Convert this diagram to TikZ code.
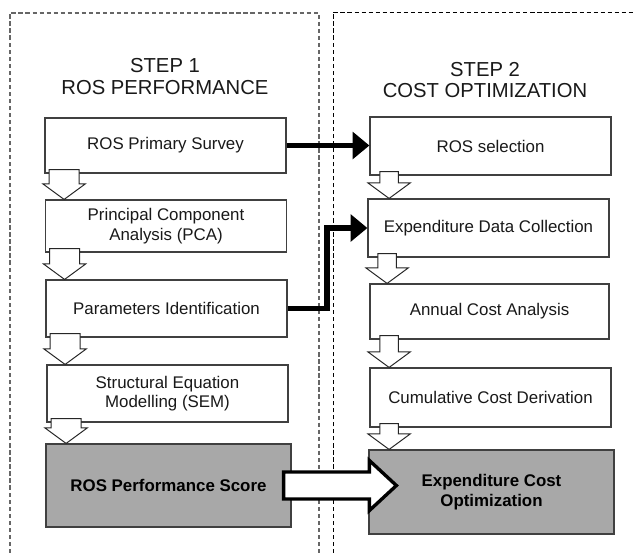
\documentclass[tikz,border=0pt]{standalone}
\usepackage{fontspec}
\setmainfont{Liberation Sans}
\usetikzlibrary{arrows.meta, positioning, calc}

\begin{document}
\begin{tikzpicture}[
    x=0.025cm, y=-0.025cm,
    stepbox/.style={rectangle, draw=black!75, line width=0.8pt, fill=white, text=black!90,
        align=center, font=\fontsize{12}{13.8}\selectfont, minimum width=6.025cm, inner sep=0pt},
    result/.style={stepbox, fill=black!34, text=black, font=\fontsize{12}{13.8}\selectfont\bfseries},
    title/.style={align=center, text=black!90, font=\fontsize{14.4}{15.6}\selectfont},
    frame/.style={dash pattern=on 3pt off 2pt, line width=0.9pt, draw=black!60},
    flow/.style={line width=3.8pt, -{Triangle[length=12pt, width=19pt]}},
    hollow/.style={draw=black!85, line width=0.7pt, fill=white},
    bigarrow/.style={draw=black, line width=2.4pt, fill=white}
]
    \useasboundingbox (0,0) rectangle (635,555);

    % frames
    \draw[frame] (10,560) -- (10,13) -- (319,13) -- (319,560);
    \draw[frame, draw=black, line width=0.6pt] (333,560) -- (333,12) -- (640,12);

    % step 1
    \node[title] (step1) at (165,76.5) {STEP 1\\ROS PERFORMANCE};
    \node[stepbox, minimum height=1.375cm] (survey) at (165.5,145.5) {ROS Primary Survey};
    \node[stepbox, minimum height=1.3cm] (pca) at (166,226) {Principal Component\\Analysis (PCA)};
    \node[stepbox, minimum height=1.425cm] (param) at (166.5,308.5) {Parameters Identification};
    \node[stepbox, minimum height=1.425cm] (sem) at (167.5,393.5) {Structural Equation\\Modelling (SEM)};
    \node[result, minimum width=6.125cm, minimum height=2.075cm] (score) at (168.5,485.5) {ROS Performance Score};

    % step 2
    \node[title] (step2) at (485,80) {STEP 2\\COST OPTIMIZATION};
    \node[stepbox, minimum height=1.45cm] (select) at (490.5,146) {ROS selection};
    \node[stepbox, minimum height=1.45cm] (collect) at (488.5,228) {Expenditure Data Collection};
    \node[stepbox, minimum width=5.975cm, minimum height=1.375cm] (annual) at (489.5,311.5) {Annual Cost Analysis};
    \node[stepbox, minimum height=1.475cm] (cumul) at (490.5,397.5) {Cumulative Cost Derivation};
    \node[result, minimum width=6.125cm, minimum height=2.1cm] (optim) at (491.5,492) {Expenditure Cost\\Optimization};

    % down arrows
    \foreach \a/\b/\w in {survey/pca/10.7pt, pca/param/10.7pt, param/sem/10.7pt, sem/score/10.7pt,
        select/collect/6.6pt, collect/annual/6.6pt, annual/cumul/6.6pt, cumul/optim/6.6pt}
        \draw[hollow] let \p1=(\a.south west), \p2=(\b.north) in
            (\x1+14pt-\w,\y1+2.8pt) -- (\x1+14pt+\w,\y1+2.8pt) -- (\x1+14pt+\w,\y2+11pt)
            -- (\x1+29pt,\y2+11pt) -- (\x1+14pt,\y2) -- (\x1-1pt,\y2+11pt)
            -- (\x1+14pt-\w,\y2+11pt) -- cycle;

    % links between steps
    \coordinate (elbow) at (327,0);
    \draw[flow] (survey.east) -- (survey.east -| select.west);
    \draw[flow] (param.east) -| (elbow |- collect.west) -- (collect.west);
    \draw[bigarrow] let \p1=(score.east), \p2=(optim.west) in
        (\x1-5.7pt,\y1+9.6pt) -- (\x2+0.7pt,\y1+9.6pt) -- (\x2+0.7pt,\y1+17.8pt)
        -- (\x2+19.9pt,\y1) -- (\x2+0.7pt,\y1-17.8pt) -- (\x2+0.7pt,\y1-9.6pt)
        -- (\x1-5.7pt,\y1-9.6pt) -- cycle;
\end{tikzpicture}
\end{document}
